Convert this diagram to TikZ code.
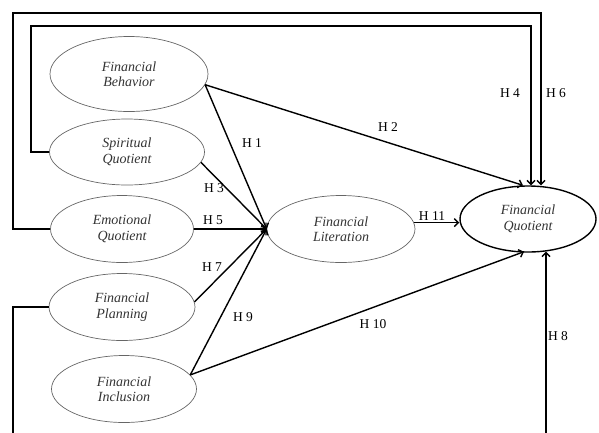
\documentclass[tikz,border=0pt]{standalone}
\usepackage{fontspec}
\setmainfont{Liberation Serif}
\usetikzlibrary{shapes.geometric,arrows.meta,calc}
\tikzset{
    >={Straight Barb[length=4pt,width=8pt]}, % open barb like the source figure
    % latent constructs
    latent/.style={ellipse, draw=black!60, line width=0.7pt, inner sep=0pt,
        align=center, text=black!80, font=\fontsize{14}{15.5}\selectfont\itshape},
    outcome/.style={latent, draw=black, line width=1.4pt},
    % hypothesis paths and their labels
    hyp/.style={->, line width=1.4pt, draw=black},
    hlabel/.style={font=\fontsize{13.5}{15}\selectfont, inner sep=0pt}
}

\begin{document}
\begin{tikzpicture}[x=1pt,y=-1pt]
  \useasboundingbox (0,0) rectangle (599,432);
  \clip (0,0) rectangle (599,432);

  % Independent variables (left column)
  \node[latent, minimum width=158pt, minimum height=75pt] (fb) at (129,74) {Financial\\Behavior};
  \node[latent, minimum width=155pt, minimum height=66pt] (sq) at (127,152) {Spiritual\\Quotient};
  \node[latent, minimum width=143pt, minimum height=67pt] (eq) at (122,229) {Emotional\\Quotient};
  \node[latent, minimum width=146pt, minimum height=67pt] (fp) at (122,307) {Financial\\Planning};
  \node[latent, minimum width=145pt, minimum height=67pt] (fi) at (124,389) {Financial\\Inclusion};

  % Mediator and outcome
  \node[latent, minimum width=148pt, minimum height=67pt] (fl) at (341,229) {Financial\\Literation};
  \node[outcome, minimum width=136pt, minimum height=66pt] (fq) at (528,219) {Financial\\Quotient};

  % Corner points of the direct paths around the figure
  \coordinate (sqturn) at (31,26);
  \coordinate (eqturn) at (13,13);
  \coordinate (fpturn) at (13,450); % runs below the page edge

  % Paths into Financial Literation
  \draw[hyp] (fb.-8) -- (fl.west);
  \draw[hyp] (sq.-8) -- (fl.west);
  \draw[hyp] (eq.east) -- (fl.west);
  \draw[hyp] (fp.4) -- (fl.west);
  \draw[hyp] (fi.12) -- (fl.west);

  % Paths into Financial Quotient
  \draw[hyp] (fb.-8) -- ($(fq.north)+(-5,0)$);
  \draw[hyp] (sq.west) -| (sqturn) -| ($(fq.north)+(3,0)$);
  \draw[hyp] (eq.west) -| (eqturn) -| ($(fq.north)+(13,0)$);
  \draw[hyp] (fp.west) -| (fpturn) -| ($(fq.south)+(18,-1)$);
  \draw[hyp] (fi.12) -- ($(fq.south)+(-4,-1)$);
  \draw[hyp] (fl.5) -- (fl.5 -| fq.west);

  % Hypothesis labels
  \node[hlabel] (h1) at (252,143) {H 1};
  \node[hlabel] (h2) at (388,127) {H 2};
  \node[hlabel] (h3) at (214,188) {H 3};
  \node[hlabel] (h4) at (510,93) {H 4};
  \node[hlabel] (h5) at (213,220) {H 5};
  \node[hlabel] (h6) at (556,93) {H 6};
  \node[hlabel] (h7) at (212,267) {H 7};
  \node[hlabel] (h8) at (558,336) {H 8};
  \node[hlabel] (h9) at (243,317) {H 9};
  \node[hlabel] (h10) at (373,324) {H 10};
  \node[hlabel] (h11) at (432,216) {H 11};

\end{tikzpicture}
\end{document}
